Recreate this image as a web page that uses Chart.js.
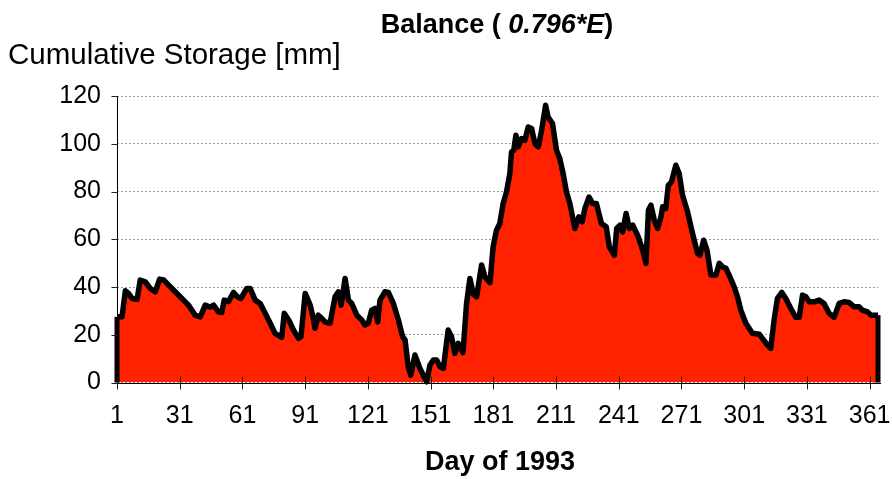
<!DOCTYPE html>
<html>
<head>
<meta charset="utf-8">
<script src="https://cdn.jsdelivr.net/npm/chart.js@4/dist/chart.umd.min.js"></script>
<style>
html,body{margin:0;padding:0;background:#fff;}
#wrap{width:892px;height:479px;position:relative;}
</style>
</head>
<body>
<div id="wrap"><canvas id="c" width="892" height="479"></canvas></div>
<script>
// ---- data ----
const days = [
  1,3.4,5,6.5,8.2,10.6,12.1,14.5,16.9,19.3,
  21.4,23.3,24.9,27.3,31.2,35.2,38.4,40.8,43.2,45.6,
  47.2,49.5,51.1,52.3,54.3,56.7,58.6,60.2,63.1,64.7,
  67.1,69.5,71.9,74.3,76.6,79.8,81,83.4,85.4,87.8,
  89,91,93.4,94.9,95.7,97.3,98.9,100.5,102.9,105.3,
  106.9,108.2,110.1,111.7,113.3,115.7,118.1,119.6,121.2,122.8,
  124.4,125.7,126.8,129.2,130.8,133.2,135.6,137.6,138.8,140.3,
  141.5,143.5,145.9,147.5,149.1,150.7,152.3,153.9,155.5,157.1,
  159.4,161,162.6,164.2,166.5,168.2,169.8,171.4,173,175.4,
  177,179.4,180.9,182.5,184.1,185.7,187.3,188.9,189.7,190.8,
  191.8,192.9,194.5,196.1,197.7,199.3,200.9,202.5,204.1,206,
  207.2,209.3,211.2,212.8,214.4,216,217.6,220,221.9,223.5,
  224.8,226.8,228.5,230.3,232.7,235,236.5,238.9,240,241.6,
  242.9,244.5,246.1,247.7,250,252.5,254,255.2,256.4,258,
  259.6,261.2,262,263.5,264.7,266.2,268.3,269.9,271.5,273.9,
  276.3,278.7,279.8,281.6,283.2,285.1,287.5,289.1,290.7,292.3,
  293.8,296.2,297.8,299.4,301.8,304.9,308.2,309.7,312.1,313.7,
  315.3,316.9,319,320.9,323.3,325.7,327.3,328.9,330.5,332.1,
  334.5,336.8,339.2,341.6,344,346.4,348.8,351.2,353.6,356,
  357.5,360,361.6,365
];
const storage = [
  27.5,27.5,38.4,37.3,35.2,34.8,42.9,42.2,39.4,38,
  43.3,43,41.5,39.4,35.9,32.4,28.2,27.5,32.4,31.5,
  32.4,29.6,29.3,34.5,33.9,37.7,35.9,35.2,39.4,39.4,
  34.5,33.1,29,24.8,20.6,18.9,29,25.8,22,18.5,
  19.2,37.3,32.4,26.9,22.7,28.2,26.9,25.4,24.8,35.9,
  38,32.4,43.6,34.5,33.1,28.2,26.2,24.1,24.8,30.3,
  31,25.4,34.5,38,37.7,33.1,26.2,19.2,17.8,6.6,
  3.1,11.5,5.9,3.1,0.3,7.3,9.4,9.4,6.6,5.9,
  22,19.2,12.2,16.4,12.5,33.1,43.6,37,35.9,49.2,
  44.3,41.8,56.8,63.8,66.6,75,79.8,87.5,96.6,97.3,
  103.6,98.7,102.2,101.5,107,106.4,100.1,98.7,105.6,116.1,
  111.2,108.5,97.3,93.8,87.5,79.8,75,64.5,69.4,67.3,
  72.9,77.7,75,75,66.6,65.2,56.8,53.3,64.5,65.9,
  63.1,70.8,64.5,65.9,61.7,55.4,49.9,72.2,74.3,68,
  64.5,69.4,73.6,72.9,82.6,84,91,87.5,78.5,71.5,
  62.4,54.1,53.3,59.6,55.4,45,45,49.9,48.4,47.8,
  45,40.1,35.9,30.3,24.8,20.6,20.2,18.5,15.7,14.3,
  26.2,35.2,37.7,35.2,31,27.3,27.3,36.6,35.9,33.8,
  33.8,34.5,33.1,29,27.3,33.1,33.8,33.5,31.7,31.7,
  30.3,29.6,28.2,28.2
];
const tickDays = [1,31,61,91,121,151,181,211,241,271,301,331,361];
const yMin = 0, yMax = 120, yStep = 20;
const titleParts = [["Balance ( ", false], ["0.796*E", true], [")", false]];
const yTitle = "Cumulative Storage [mm]";
const xTitle = "Day of 1993";

// ---- chart ----
const FONT = "'Liberation Sans', Arial, Helvetica, sans-serif";
const points = days.map((d, i) => ({x: d, y: storage[i]}));

const decor = {
  id: 'decor',
  afterDatasetsDraw(chart) {
    const ctx = chart.ctx, xs = chart.scales.x, ys = chart.scales.y, a = chart.chartArea;
    ctx.save();
    // area edges (vertical borders at first/last point)
    ctx.strokeStyle = '#000'; ctx.lineWidth = 5; ctx.lineCap = 'butt';
    const first = points[0], last = points[points.length - 1];
    [first, last].forEach(p => {
      ctx.beginPath();
      ctx.moveTo(xs.getPixelForValue(p.x), ys.getPixelForValue(0));
      ctx.lineTo(xs.getPixelForValue(p.x), ys.getPixelForValue(p.y));
      ctx.stroke();
    });
    // axis lines
    ctx.lineWidth = 1; ctx.strokeStyle = '#000';
    const yb = Math.round(ys.getPixelForValue(0)) + 0.5;
    ctx.beginPath(); ctx.moveTo(a.left, yb); ctx.lineTo(a.right + 3, yb); ctx.stroke();
    const xl = Math.round(a.left) + 0.5;
    ctx.beginPath(); ctx.moveTo(xl, a.top); ctx.lineTo(xl, yb); ctx.stroke();
    // tick marks
    ctx.strokeStyle = '#222';
    tickDays.forEach(d => {
      const px = Math.round(xs.getPixelForValue(d)) + 0.5;
      ctx.beginPath(); ctx.moveTo(px, yb - 7); ctx.lineTo(px, yb + 6); ctx.stroke();
    });
    for (let v = yMin; v <= yMax; v += yStep) {
      const py = Math.round(ys.getPixelForValue(v)) + 0.5;
      ctx.beginPath(); ctx.moveTo(xl - 6, py); ctx.lineTo(xl, py); ctx.stroke();
    }
    ctx.restore();
  },
  afterDraw(chart) {
    const ctx = chart.ctx;
    ctx.save();
    ctx.fillStyle = '#000';
    ctx.textBaseline = 'alphabetic';
    // main title with italic part
    const tSize = 27;
    let total = 0;
    const widths = titleParts.map(([t, it]) => {
      ctx.font = (it ? 'italic ' : '') + 'bold ' + tSize + 'px ' + FONT;
      const w = ctx.measureText(t).width; total += w; return w;
    });
    let x = 497 - total / 2;
    titleParts.forEach(([t, it], i) => {
      ctx.font = (it ? 'italic ' : '') + 'bold ' + tSize + 'px ' + FONT;
      ctx.textAlign = 'left';
      ctx.fillText(t, x, 33);
      x += widths[i];
    });
    // y title
    ctx.font = '29.5px ' + FONT;
    ctx.textAlign = 'left';
    ctx.fillText(yTitle, 8, 64);
    // x title
    ctx.font = 'bold 27px ' + FONT;
    ctx.textAlign = 'center';
    ctx.fillText(xTitle, 500, 470);
    ctx.restore();
  }
};

new Chart(document.getElementById('c'), {
  type: 'line',
  data: {
    datasets: [{
      data: points,
      borderColor: '#000',
      borderWidth: 5.5,
      backgroundColor: '#FF2100',
      fill: 'origin',
      pointRadius: 0,
      tension: 0,
      borderJoinStyle: 'round',
      clip: false
    }]
  },
  options: {
    responsive: false,
    animation: false,
    events: [],
    layout: {padding: {left: 0, right: 14, top: 96, bottom: 0}},
    plugins: {legend: {display: false}, title: {display: false}, tooltip: {enabled: false}},
    scales: {
      x: {
        type: 'linear',
        min: 1, max: 365,
        afterBuildTicks: s => { s.ticks = tickDays.map(v => ({value: v})); },
        afterFit: s => { s.height = 96.5; s.paddingLeft = 0; s.paddingRight = 0; },
        grid: {display: false, drawTicks: false, tickLength: 0},
        border: {display: false},
        ticks: {
          autoSkip: false, maxRotation: 0, padding: 19,
          color: '#000',
          font: {family: FONT, size: 25},
          callback: v => String(v)
        }
      },
      y: {
        min: yMin, max: yMax,
        afterFit: s => { s.width = 117; s.paddingTop = 0; s.paddingBottom = 0; },
        grid: {color: '#9a9a9a', lineWidth: 1, drawTicks: false, tickLength: 0},
        border: {display: false, dash: [2, 2]},
        ticks: {
          stepSize: yStep, padding: 16, color: '#000',
          font: {family: FONT, size: 25}
        }
      }
    }
  },
  plugins: [decor]
});
</script>
</body>
</html>
